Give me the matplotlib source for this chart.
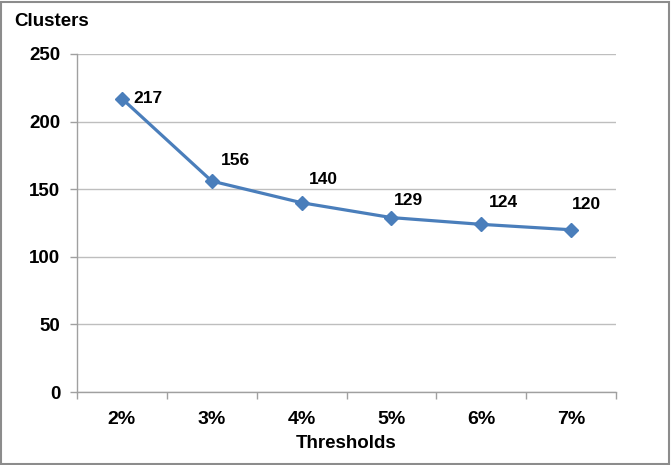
import matplotlib
matplotlib.use("Agg")
import matplotlib.pyplot as plt
from matplotlib.patches import Rectangle

categories = ["2%", "3%", "4%", "5%", "6%", "7%"]
clusters = [217, 156, 140, 129, 124, 120]
yticks = [0, 50, 100, 150, 200, 250]
# label offsets in points (dx, dy) relative to each marker
label_offsets = [(19, 0), (17, 15), (16, 17), (12, 12), (16, 16), (11, 18)]

plt.rcParams['font.family'] = ['Liberation Sans', 'DejaVu Sans']
plt.rcParams['font.weight'] = 'bold'

W, H = 671, 465
fig = plt.figure(figsize=(W / 100, H / 100), dpi=100)
ax = fig.add_axes([77 / W, (H - 392) / H, (616 - 77) / W, (392 - 54) / H])

x = list(range(len(categories)))
ax.plot(x, clusters, color='#4A7EBB', lw=2.3, marker='D', ms=7.5,
        markerfacecolor='#4A7EBB', markeredgecolor='#4A7EBB', zorder=3)
for xi, v, (dx, dy) in zip(x, clusters, label_offsets):
    ax.annotate(str(v), (xi, v), xytext=(dx, dy), textcoords='offset points',
                ha='center', va='center', fontsize=12.5, fontweight='bold')

ax.set_xlim(-0.5, len(categories) - 0.5)
ax.set_ylim(0, 250)
ax.set_yticks(yticks)
ax.set_yticklabels([str(t) for t in yticks], fontsize=13.5, fontweight='bold')
ax.set_xticks(x)
ax.set_xticklabels(categories, fontsize=14, fontweight='bold')
ax.set_xticks([i - 0.5 for i in range(len(categories) + 1)], minor=True)
ax.tick_params(axis='x', which='major', length=0, pad=14)
ax.tick_params(axis='x', which='minor', length=5, color='#A0A0A0', width=1)
ax.tick_params(axis='y', length=5, color='#A0A0A0', width=1, pad=7)
ax.grid(axis='y', color='#BEBEBE', lw=1)
ax.set_axisbelow(True)
for s in ['top', 'right']:
    ax.spines[s].set_visible(False)
for s in ['left', 'bottom']:
    ax.spines[s].set_color('#A0A0A0')
    ax.spines[s].set_linewidth(1)

ax.set_xlabel("Thresholds", fontsize=13.5, fontweight='bold', labelpad=5)
fig.text(14 / W, 1 - 22 / H, "Clusters", fontsize=13.5, fontweight='bold',
         ha='left', va='center')

fig.patches.append(Rectangle((0.002, 0.003), 0.995, 0.993, transform=fig.transFigure,
                             fill=False, edgecolor='#8C8C8C', lw=1.5))
fig.savefig("out.png", dpi=100)
